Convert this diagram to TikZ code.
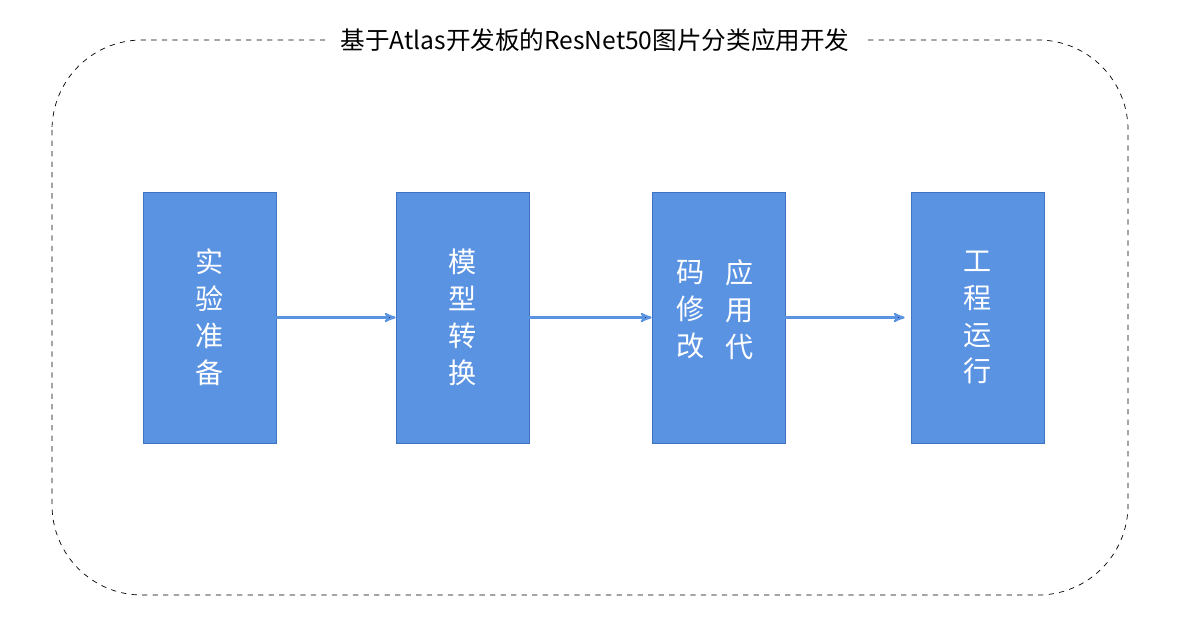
\documentclass[tikz,border=0pt]{standalone}
\usepackage{fontspec}
\setmainfont{Noto Sans CJK SC}
\usetikzlibrary{arrows,positioning}
\definecolor{stepblue}{HTML}{5B93E3}
\definecolor{stepedge}{HTML}{3F72C0}
\begin{document}
\begin{tikzpicture}[x=0.02cm,y=-0.02cm,->,>=stealth',
  step node/.style={rectangle,fill=stepblue,draw=stepedge,minimum width=2.66cm,minimum height=5.02cm,
    text=white,align=center,font=\fontsize{16pt}{21pt}\selectfont},
  col/.style={text=white,align=center,font=\fontsize{16pt}{21pt}\selectfont},
  flow/.style={draw=stepblue,line width=1.2pt}]
  \useasboundingbox (0,0) rectangle (1182,616);
  \draw[-,dashed,rounded corners=1.8cm] (52,40) rectangle (1128,595);
  \node[fill=white,inner xsep=8pt,font=\fontsize{14pt}{16pt}\selectfont] (title) at (595,40) {基于Atlas开发板的ResNet50图片分类应用开发};

  \node[step node] (prep) at (209.5,317.5) {实\\验\\准\\备};
  \node[step node] (conv) at (462.5,317.5) {模\\型\\转\\换};
  \node[step node] (code) at (718.5,317.5) {};
  \node[col] (codeR) at (740,310) {应\\用\\代};
  \node[col] (codeL) at (691,310) {码\\修\\改};
  \node[step node] (run) at (977.5,317.5) {工\\程\\运\\行};

  \path[flow]
    (prep) edge (conv)
    (conv) edge (code)
    (code) edge ([xshift=-0.12cm]run.west);
\end{tikzpicture}
\end{document}
